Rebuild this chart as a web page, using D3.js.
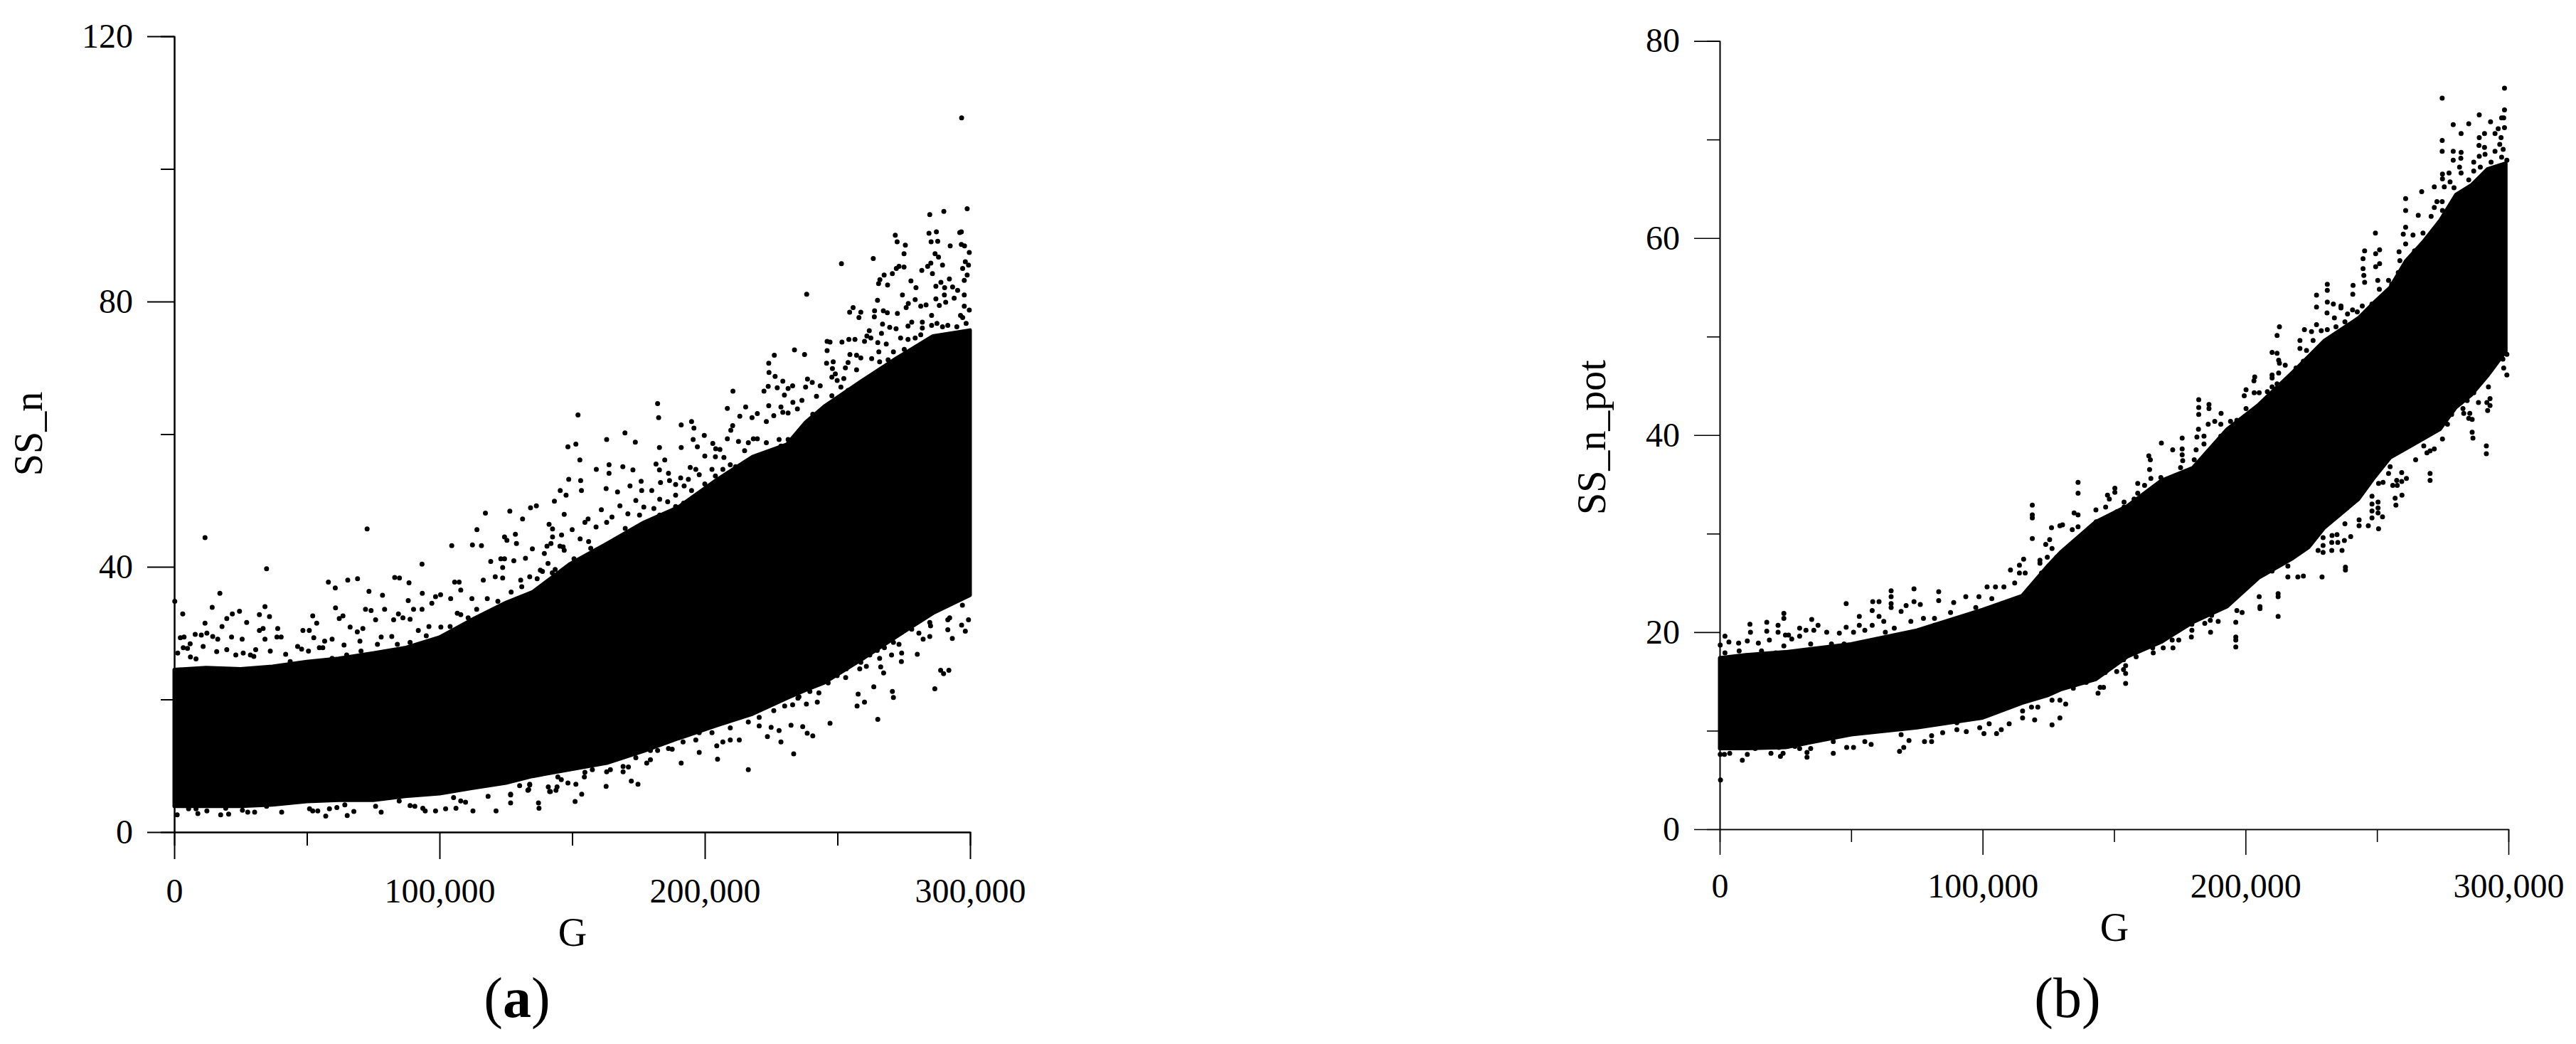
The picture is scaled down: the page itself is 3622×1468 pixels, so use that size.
<!DOCTYPE html>
<html>
<head>
<meta charset="utf-8">
<title>SS_n and SS_n_pot against G</title>
<script src="https://cdn.jsdelivr.net/npm/d3@7"></script>
<style>
  html, body { margin: 0; padding: 0; background: #fff; }
  svg { display: block; }
  text { font-family: "Liberation Serif", serif; fill: #000; }
</style>
</head>
<body>
<div id="chart"></div>
<script>
// G is kept in thousands, every pair is [G, value].

const xMajorTicks = [0, 100, 200, 300];
const xMinorTicks = [50, 150, 250];
const xTickLabels = ["0", "100,000", "200,000", "300,000"];
const aMajorTicks = [0, 40, 80, 120];
const aMinorTicks = [20, 60, 100];
const bMajorTicks = [0, 20, 40, 60, 80];
const bMinorTicks = [10, 30, 50, 70];

// The saturated middle of each cloud cannot be read dot by dot,
// so it is kept as its lower and upper edge at these G values.
const aCoreG = [0, 12, 25, 37, 50, 62, 75, 87, 100, 112, 125, 135, 149, 163, 177, 190, 204, 218, 231, 238, 245, 259, 272, 286, 300];
const aCoreLow = [3.9, 3.9, 3.9, 4.1, 4.6, 4.8, 4.8, 5.4, 5.8, 6.6, 7.4, 8.4, 9.4, 10.4, 12.2, 14.1, 16, 17.8, 20.2, 21.4, 22.5, 26, 29.4, 33, 35.7];
const aCoreHigh = [24.5, 24.8, 24.6, 25, 25.7, 26.2, 27, 27.8, 29.4, 32, 34.6, 36.2, 40.4, 43.5, 46.7, 49, 53, 56.6, 58.5, 61.8, 64.2, 68, 71.4, 74.8, 75.7];

const bCoreG = [0, 10, 25, 50, 75, 100, 115, 125, 130, 143, 155, 168, 180, 193, 205, 218, 224, 230, 243, 249, 255, 261, 267.5, 274, 280, 286, 292, 299];
const bCoreLow = [8.2, 8.2, 8.3, 9.6, 10.3, 11.3, 12.8, 13.6, 14.2, 15.2, 17.5, 19, 21, 22.6, 25.5, 27.5, 28.6, 30.6, 33.5, 35.7, 37.7, 38.6, 39.6, 40.6, 42.8, 44.1, 46, 48.5];
const bCoreHigh = [17.4, 17.7, 18, 18.8, 20.2, 22.3, 23.7, 26.8, 28.2, 31.2, 32.8, 35.4, 36.7, 40.6, 43.1, 46.4, 48, 49.6, 51.9, 53.5, 55, 57.7, 59.6, 61.8, 64.4, 65.4, 67, 67.6];

// single dots around the core of panel (a)
const aPoints = [
  [296.8,107.7],[298.9,94],[290.1,93.6],[284.8,93.1],[271.8,90],[284.5,90.3],[287.3,90.5],[296.7,90.5],[296.1,90.4],
  [272.5,89],[275.6,88.5],[285.3,89],[287.8,89.1],[292.5,88.4],[296.7,88.6],[297.9,88.4],[299.7,87.4],[275.1,87.2],
  [286.8,87.2],[288.1,86.7],[251.5,85.7],[263.5,86.5],[289.6,85.5],[285.2,85.8],[284,85.3],[281.8,84.7],[273.2,85.3],
  [275.1,85.2],[272.2,85],[298.2,86],[299.4,85.5],[297.2,85],[285.8,84.2],[267.6,84],[270.7,84.2],[266,83.3],[265.5,82.7],
  [268.9,82.5],[277.7,83.1],[279.6,82.1],[298.9,84],[297.8,83.2],[292.2,83.4],[289,82.9],[287.1,82.3],[290.4,82.1],
  [293.4,82.2],[295.3,81.7],[297.8,81],[238.4,81.1],[274.5,81],[265.1,80.2],[287.1,80.4],[290.3,81],[294,80.5],[290.8,79.9],
  [279.3,80.3],[281.4,79.3],[283.4,79.5],[276.7,79.7],[275.9,79.1],[255.9,79.1],[254.6,78.4],[258.8,78.4],[258.1,77.6],
  [264,78.6],[263.9,77.7],[267.3,78.6],[268.8,78.3],[272.6,78.2],[285.5,77.9],[288.4,79.4],[297.8,79.3],[299.7,78.7],
  [296.4,77.9],[267,76.6],[269.7,76.1],[272.1,75.9],[276.6,76.3],[278,76.9],[282,76.9],[282,76],[262,75.6],[266.6,75.2],
  [261.1,74.8],[262.6,74.5],[254.3,74.3],[256.6,74.3],[251.7,73.9],[246.1,74],[247.2,73.9],[260.2,74],[246.1,72.6],
  [233.8,72.7],[237.6,72],[226.2,71.9],[224.1,70.7],[224.2,69.3],[226.5,68.7],[245.9,70.7],[248.4,70.9],[248.1,69.9],
  [254,70.8],[253,70],[257.2,69.7],[249.2,69.1],[247.9,68.6],[249.9,68.1],[252.4,68.4],[254.7,72],[257.2,71.9],[258.8,71.5],
  [262.9,71.4],[265.6,72.4],[265.9,70.9],[268.4,73.6],[265.2,73.8],[229.4,68],[230,65.9],[238.7,68.3],[240.5,67.8],
  [238,67.1],[243.5,67.3],[233.1,67.3],[231.4,66.9],[223.9,67.2],[227.3,67],[222.3,66.5],[210.6,66.5],[182.2,64.6],
  [182.6,62.5],[152.2,62.9],[208.5,63.9],[215.4,64.1],[224.1,64.3],[228.7,64.1],[233.2,64.8],[236.6,65.1],[242.1,65.7],
  [247.9,65.8],[213.2,62.7],[219.8,63.1],[217.8,62.5],[223.2,61.9],[229.4,63.3],[231.4,63.2],[226,62.8],[234.9,63.8],
  [240.7,63],[191.1,61.4],[195,61.9],[195.9,60.9],[210.5,61.3],[209.8,60.6],[169.9,60.2],[199.8,59.8],[163,59.2],[173.8,58.8],
  [151.4,58.5],[148.4,58.1],[195.6,59.2],[182.9,58],[191.1,58],[197.2,58.1],[203,58.6],[208.5,59.3],[204.1,57.8],[205.7,57.7],
  [212.7,58.9],[216.4,58.7],[218.3,59.3],[219.8,59.3],[223.2,58.7],[152.9,56.1],[184.9,56.1],[181.6,55.5],[159.1,54.7],
  [163.9,55.4],[169.1,55.1],[172.9,54.6],[163.9,54.1],[182.9,54.6],[186.3,54.1],[148.7,53.2],[153.2,53],[176,52.9],[145.5,51.5],
  [147.7,50.8],[153.5,51.5],[162.8,51.8],[167.1,51.3],[171.8,52.2],[176.2,51.5],[183.3,52.7],[186.7,53],[189,52.4],[192.2,52.2],
  [190.9,53.4],[193.8,53.2],[194.5,55],[196.6,54.7],[202.7,54.7],[200,56.7],[204,56.6],[207.2,56.5],[197.9,53.9],[204,53.7],
  [209.6,55.4],[213,55.1],[200,52.5],[211,53.7],
  [287.5,76.7],[289.6,76.2],[291.6,76.4],[285.5,76.4],[297.2,77.6],[298.5,76.7],[295,76.2],[290.3,74.3],[293,74.5],[296.4,74.3],
  [299.2,75.2],[276.6,74.3],[279.3,74.5],[281.4,75],[273.8,74.5],[275.2,72.8],[279.3,72.6],[282.7,73.1],[285.5,72.8],[288.9,72.8],
  [271.1,72.4],[269.1,71.2],[276.6,71.4],[280.7,70.9],[272.5,70],[275.9,70],[268.4,69.7],[264.3,68.3],[275.2,68.5],[284.1,68.8],
  [260.2,67.3],[267,67.6],[256.7,66.9],[262.9,67.1],[271.1,66.1],[274.5,67.1],[251.3,67.1],[254,66.6],[258.8,65.7],[251.3,65.2],
  [256.7,64.5],[264.3,64.9],[267,64.9],[248.5,64.2],[253.3,63.3],[260.9,63.3],[246.5,63.3],[250.6,61.8],[256.7,60.9],[243.1,60.4],
  [235.5,60.4],[228,59.2],[231.4,59.2],[234.9,59],[239.6,59.2],[244.4,59.2],[215,57.5],[223.2,56.8],[228.7,57.5],[234.2,57],
  [211.6,55.1],[217.8,55.1],[223.2,54.2],[230.1,55.1],
  // between the core and the loose dots
  [142,43.5],[146,44.8],[150,45.6],[153,44.2],[156,47.2],[159,46],[161,48.6],[165,47.5],[168,49.2],[171,48],[174,50],[177,49],[180,51.5],[183,50.2],[186,49.8],
  [189,50.8],[192,49.6],[195,51.5],[198,50.5],[201,51.8],[157,42.8],[170,45.8],[183,47.8],[196,49.5],[138,39.5],[131,37],[127,36.2],[134,38.5],[118,35.2],[122,34.8],
  [108,32.8],[114,33.6],[104,31],[96,31],[92,30.4],[82,29.5],[78,29.4],[70,28.8],[64,28.2],[56,27.8],[48,27.6],[42,26.8],[30,26.5],[26,27],[16,27.2],[6,28.4],
  [163,46.7],[175.4,47.8],[180.8,48.8],[189,49.1],[192.5,48.8],[156.2,43.8],[150.7,41.2],[142.5,39.1],[154.8,46.7],[146.6,43],
  [206.8,54.7],[221.9,57],[228.7,58.2],[235.5,59.9],[241,62.8],
  // lower edge of the core, read along its fringe
  [130.2,7],[141,6.8],[144.6,8.3],[154.8,9],[157.6,9.4],[164.4,9.4],[169.2,9.9],[174,11.2],[179.5,12.3],[186.3,12.6],[191.8,13.6],[197.9,15],[202.7,15],[209.6,15.7],
  [216.4,16.6],[220.5,17.3],[226,18.3],[230.1,19],[235.5,20.4],[239.6,21.2],[243,21],[249.9,23.6],[253.3,24.6],[258.8,25.6],[265,27.4],[271.1,28.6],[278,30.6],
  [284.8,31.6],[291.6,32],[297.1,34.2],
  // below the core, right half
  [137.3,4.4],[137.5,3.6],[126.8,4.4],[151.1,4.6],[153.6,5.7],[162.8,6.9],[172.3,7.7],[174.8,7.2],[154.6,8.3],[148.4,7.4],[151.4,7.2],
  [145.9,7.9],[134,7.2],[133.6,6.4],[126.8,5.7],[141.8,6.1],[143.9,6.3],[191.1,10.4],[204.8,11],[216.4,9.4],[233.5,11.8],[197.9,12],
  [204.5,13],[228.7,13.6],[223.6,14.4],[240.7,14.5],[238.6,14.9],[236.9,15.9],[247.2,16.4],[265.2,17],[232.5,16.1],[228,15.3],[225,15.8],
  [220.5,16],[213,13.9],[209.6,13.9],[206.8,13.6],[196.6,13.9],[187.7,12.5],[182.2,12.3],[179.5,10.9],[178.1,10.4],[171.2,9.8],[169.2,9.1],
  [163,9.1],[257.4,19],[260.2,19.6],[257.8,20.8],[263.7,21.9],[270.7,21.2],[271.1,20.3],[286.7,21.6],[288.9,24.4],[290,23.9],[292,24.4],
  [266.3,24.9],[267.4,24],[274.1,25.7],[280.1,26.8],[260.9,25],[258.4,24.6],[253.1,23.3],[246.5,22.5],[242.4,19.6],[238.3,19.3],[235.1,20.2],
  [233.1,19.2],[293.3,29.2],[284.8,29.5],[282.3,29.1],[280.7,30],[298.2,30.3],[296.8,31.2],[291.6,30.5],[292.3,32.3],[299.4,32],[285.1,31.1],
  [273.2,28.3],[274.2,27],[270.4,26.7],[265.9,26.2],[267.7,27.8],[262.2,26.7],
  // above the core, left half
  [11.6,44.4],[34.8,39.7],[72.7,45.7],[93.4,40.4],[0.2,34.8],[17.2,36],[3.2,32.9],[14.3,33.9],[73.4,36.3],[58.1,37.7],[60.7,36.8],[65.4,38],
  [69.1,38.2],[78.5,35.7],[83.1,38.4],[84.9,38.3],[88.5,37.6],[93.5,36],[98.5,35.5],[100.4,35.8],[104.6,43.2],[112.4,43.3],[115.8,43.2],[114.1,45.6],
  [117.3,48.1],[126.5,48.4],[131.3,47.2],[134.3,48.9],[136.5,49.2],[143.3,49.9],[124.5,44.5],[125.4,44],[128.6,44.9],[129,43.5],[128,40.9],[132.4,41.3],
  [135,42.7],[119.3,40.8],[123.1,41.2],[124.5,41.2],[123.8,39.9],[141.3,46.4],[142.6,45.7],[142.6,44.5],[140.5,43.1],[139.5,42],[140.9,40.5],[147,47.9],
  [145.4,43.1],[147,42.5],[104.2,35.2],[105.7,37.7],[107.4,37.7],[108,36.5],[112.2,35.2],[116.5,38],[121,38.5],[123.8,38.3],[130.6,38],[136.8,38.2],
  [138.8,39.3],[143.6,39.6],[145.7,38.6],[52.2,32.6],[48.5,30.4],[50.9,30.4],[53.7,31.5],[60.8,33.8],[63.6,32.6],[62.2,32.2],[72.1,33.6],[74.2,33.4],
  [79.3,33.6],[84.5,32.9],[90.2,33.6],[93.4,33.6],[88.2,34.9],[97.1,34.5],[24.6,33.3],[19.8,32.2],[21.9,32.9],[34.2,34],[32.1,32.8],[35.9,32.5],[27.3,31.6],
  [11.6,31.5],[18,31],[33.5,30.7],[39,30.7],[32.1,30.4],[12.3,30],[7.9,29.8],[10.2,29.7],[14.5,29.5],[16.4,29.1],[2.3,29.3],[3.7,29.4],[21.6,29.4],[25.6,29.1],
  [34.2,29.1],[38.7,29.4],[40.3,29.4],[52.6,29.3],[56.7,28.8],[59.5,29.1],[66.3,30.9],[69,30.2],[71.1,30.7],[75.9,32],[82.7,32],[86.2,32.3],[88.9,32.1],
  [1.3,27],[3.4,27.8],[5,27.7],[6.1,26.4],[8.2,26.1],[10.9,28],[19.8,27.5],[23.2,26.7],[28.7,26.7],[30.7,27.5],[36.2,27.3],[43.7,25.7],[46.5,28],[50.6,27.3],
  [54.7,27.8],[59.5,26.2],[65,26.7],[70.4,27.3],[76.6,28.3],[84.1,28.3],[88.9,28.6],[95,29.6],[100.5,30.9],[106.7,33],[110.8,32.3],[116.2,32.3],[123.1,33],
  [128.6,33.6],[134,34.6],[140.9,35.7],[146.3,37.8],[145,34.6],
  // below the core, left half
  [1.1,2.6],[8.9,2.8],[5.4,3.5],[8.2,3.5],[17.5,2.6],[20.5,2.7],[19.4,3.6],[12.3,3.2],[27.7,3],[30.3,3],[25.7,3.3],[34.8,3.9],[40.5,3],[52.2,3.2],[54.1,3.2],
  [51,3.5],[57.1,2.4],[58.5,3.5],[61.3,3.7],[65.2,2.5],[67.7,3.1],[64.3,4.1],[78,3],[75.9,3.9],[84.8,4.7],[88.9,4],[90.7,3.9],[93.7,3.6],[94.6,3.2],[98.5,3.2],
  [102.3,3.5],[106.2,3.6],[108,4.7],[109.8,4.5],[112.6,3.2],[121.3,3.2],[105.3,5.2],[118.3,5.4],[126.8,5.6],[134,7.1],[133.3,6.3],[141.5,6.1],[144.3,6.8]
];

// single dots around the core of panel (b)
const bPoints = [
  [298.5,75.2],[274.8,74.2],[298.5,73],[288.9,72.5],[297.4,72.2],[298.2,72.2],[293.2,71.8],[284.9,71.6],[279,71.5],[298.5,71.2],[296.1,71.1],[282,70.6],[290.9,70.6],
  [294.9,70.6],[288.9,70.2],[297.2,70.2],[274.8,69.9],[288.8,69.4],[290.9,69.2],[296.7,69.5],[274.8,68.8],[279,68.8],[282,68.7],[294.9,68.8],[298,69],[288.9,68.3],
  [291.1,68.5],[279,67.9],[281.9,68.1],[286.8,67.7],[293.4,67.7],[299.4,67.9],[297.4,68.2],[281.4,67.2],[277.4,66.6],[274.9,66.5],[282,66.6],[286.8,66.8],[289.3,67.2],
  [290.5,66.4],[298,66.7],[274.9,66],[271.8,65.2],[267,64.7],[275.6,65.2],[277.8,65.7],[279.3,65.1],[284.9,65.9],[260.9,64],[260.9,62.8],[272.8,63.7],[274.8,63.7],
  [271.8,63.1],[274.9,62.8],[265.7,62.3],[270.6,62.2],[249.4,60.5],[260.9,61.1],[260,60.4],[263.7,60.3],[267.5,60.5],[245.3,58.7],[251,58.8],[249.5,58.4],[244.7,57.9],
  [251,57.4],[249.5,57.1],[244.7,56.9],[245,56.2],[245.3,55.5],[260.9,59.4],[258.4,58.6],[264.3,58.7],[267.4,58.6],[258.7,57.7],[262.5,57.7],[266.8,58],[258.1,56.5],
  [231.1,55.3],[231.1,54.7],[240.9,55.2],[240.8,54.3],[227,54.2],[227,53],[231.1,53.5],[233.4,53.3],[231,52.4],[236.3,53.1],[236.3,52.9],[244.4,53.1],[250.3,55.7],
  [254.4,55.7],[250.9,54.8],[255.6,55.3],[257.5,54.8],[253.8,53.9],[248.1,53.3],[240.7,52.7],[238.8,52.3],[242.5,52.5],[233.8,51.9],[237.8,51.5],[212.9,51],[212,50.1],
  [227,51.2],[222.4,50.7],[225.1,50.5],[228.8,50.6],[231.1,50.7],[234.4,51],[238.2,50.9],[241,50.6],[220.7,49.6],[225.7,49.6],[230.7,49.4],[235.7,49.4],[239.4,49.6],
  [210.1,48.4],[212,48.3],[220.7,48.8],[223.2,48.6],[212.6,47.6],[212.9,47.3],[215.1,47.1],[222,47.5],[225.7,47.2],[232,47.8],[235,47.5],[219.2,46.8],[212.6,46.3],
  [210.1,46.1],[210.1,45.8],[203.5,45.9],[203.2,45.5],[216,45.6],[220.1,45.9],[225.1,46.5],[219.5,45.1],[222,44.9],[200.2,44.6],[212,45.2],[210.1,44.9],[215.1,44.4],
  [199.5,44],[203.3,44.3],[205.2,44.3],[208.3,44.4],[182.2,43.6],[182.2,42.8],[186.1,43.1],[186.1,42.7],[182.2,42.1],[190.7,42.2],[200.2,42.7],[203.3,42.5],[207.7,43.1],
  [212,43.1],[217,43.5],[194.3,41.4],[196.7,41.5],[188.3,41.4],[190.6,41.1],[185.8,41.1],[182.1,40.6],[202.3,41.3],[200.2,41.7],[205.2,41.5],[196.4,40.9],[190.6,39.9],
  [181.5,39.8],[184.2,39.9],[198.9,40.6],[175.9,39.7],[168,39.2],[195.2,39.6],[184.2,39.1],[172.3,38.5],[175.9,38.6],[181.2,38.5],[190.6,38.5],[175.9,38],[163.2,37.9],
  [163.8,37.5],[176.1,37.4],[180.5,37.5],[184.8,38],[163.5,36.5],[175.3,36.7],[167.8,35.7],[164,35.6],[172.8,35.4],[177.1,35.9],[159,35.1],[136.3,35.2],[136.3,34.1],
  [161.6,34.9],[166.5,34.7],[150.3,34.6],[150.3,34.2],[147.5,33.9],[148.2,33.5],[159,34.1],[163.4,34.2],[157.6,33.5],[153.8,33.2],[143.1,32.4],[134.8,32.1],[136.3,31.9],
  [146.8,32.7],[151,32.2],[153.8,32.7],[143.2,31.2],[130.4,30.9],[136.3,30.7],[134.1,30.4],[140.4,30.5],[145.4,30.7],[142.9,30.3],
  // below the core, right half
  [299.4,46.1],[298.2,46.8],[299.4,48.2],[297.9,47.7],[292.4,44.9],[293,43.7],[291.8,43.3],[293,43],[292.1,42.5],[288.6,43.3],[286.8,44.3],[284.3,43.5],[281.8,43.3],
  [282.7,42.7],[283,42.2],[285.3,42.2],[286.2,41.6],[284.9,41.7],[286.2,40.3],[286.5,39.7],[291.6,38.9],[291.6,38.1],[278.4,42.1],[276.8,41.1],[274.9,39.6],[271.8,38.6],
  [270.2,38.4],[269,38.2],[267.8,38.9],[264.7,37.5],[265.3,39.4],[270.2,36.1],[270.2,35.4],[261.2,35.6],[259.4,36.2],[259.4,35.3],[257.5,35.4],[257.7,34.9],[256,34.9],
  [259.5,33.9],[256.9,33.6],[257.2,32.9],[254.4,36.1],[252.3,35.2],[250.6,35.1],[255,36.8],[250.4,33.2],[250.4,32.6],[250.4,32.1],[248.1,33.8],[248.1,33],[248.1,32.3],
  [252.1,31.7],[248.1,31.6],[250.6,30.5],[246.7,30.8],[243.2,30.8],[243.2,31.4],[240,29.7],[237.8,31],[234.8,29.9],[232.9,29.8],[237.6,29.3],[235.1,29.1],[232.8,29.1],
  [232.8,28.3],[236.7,28.3],[229.5,29.6],[229.5,28.8],[229.5,28.1],[227.6,28.3],[225.1,30.6],[224.5,30.1],[227,30.1],
  [238,26.6],[238,26.3],[229.1,25.6],[222,25.7],[219.9,25.6],[216.1,25.6],[216.1,26.7],[212.4,21.6],[212.4,23.9],[212.4,23.6],[210.1,26.2],[205.5,22.6],[205.5,22.4],
  [205.2,23.6],[196.3,21],[196.3,19.5],[196.3,19.2],[196.3,18.5],[196.7,22.2],[198.7,22],[189.6,21.1],[186.6,21.2],[184.5,20.9],[186.7,20],[187.1,21.7],[179.4,19.5],
  [179.6,20.2],[179.6,20.8],[174.6,19.2],[172.4,18.4],[172.1,19.2],[168.7,19.3],[168.7,18.4],[164.9,17.9],[164.7,18.4],[158.4,17.5],[153.6,17.2],[154.4,16.6],[153.6,16.2],
  [151,16],[154.4,15.8],[154.4,14.8],[146,14.4],[144.7,14.4],[143.9,13.8],[139.4,14.9],[134.5,14.3],[131.6,12.7],[146.6,15.9],[141.6,15.2],
  // above the core, left half
  [118.9,32.9],[118.9,31.9],[118.9,31.6],[118.9,29.5],[126.2,30.6],[125.5,29.4],[124,28.9],[129.4,30.8],[126.4,28.5],[121.8,27.3],[121.8,27],[115.6,27.4],[114,26.8],
  [110.6,26.3],[114,26],[116.2,26],[112.2,25],[122.4,26],[124.6,27.6],[128.2,27.6],[73.9,24.4],[65.2,24.2],[65.2,23.6],[65.2,22.9],[65.2,22.5],[58.2,23.1],[58,22.2],
  [60.6,23.1],[48.1,22.9],[73.9,23.1],[70.9,22.7],[76.3,22.8],[69,22.1],[83.3,24.1],[83.3,23.2],[89,23],[93.6,23.6],[98.6,23.6],[101.7,24.6],[104.9,24.6],[108.1,24.6],
  [103.5,23.4],[97.4,22.5],[24.4,21.9],[24.4,21.4],[35,21.3],[53.1,21.6],[60.6,21.6],[62.4,21.1],[81.7,21.4],[77.5,21.4],[72.7,21.1],[87.8,22],[17.9,21],[11.5,20.8],
  [22.2,20.7],[37.4,20.7],[35.8,20.2],[48.1,20.5],[53.1,20.7],[58,20.7],[66.4,20.4],[30.4,20.4],[32.8,20.2],[11.7,20],[17.9,20.1],[22.2,20],[30.4,19.6],[25,19.7],[26.2,19.7],
  [2,19.6],[40.7,20],[45.5,19.9],[50.9,20],[55.2,20.2],[63,20],[10.5,19.1],[14.7,18.9],[18.9,19.2],[0.2,18.7],[3.5,19],[7.2,18.9],[24.4,18.6],[27.4,19.3],[34.6,18.8],
  [42.5,18.8],[47.3,18.8],[54,18.9],[61.8,18.8],[69,19.5],[76.3,20],[81.7,20.7],[2,17.9],[7.4,18.1],[15.9,18.1],[21.3,17.9],[25.6,17.7],[31.6,17.4],[37.6,17.7],[43.7,17.9],
  // below the core, left half
  [0.3,5],[8.6,7],[10.5,7.6],[0.2,7.6],[1.8,7.6],[3.8,7.7],[7.4,8.7],[13.5,8.2],[19.5,7.7],[23.1,7.4],[24.1,7.7],[22.5,8.3],[25.6,8.4],[28.6,8.4],[30.4,8.2],[33.2,7.3],
  [33.2,7.8],[34.6,8.2],[43.2,7.7],[43.2,8.9],[48.3,8.3],[50.9,8.3],[55.2,8.9],[57.6,8.6],[68.4,7.9],[70,8.3],[72,9],[69,9.6],[77.9,8.9],[80.6,8.9],[80.6,9.5],[84.8,9.8],
  [90.2,10.1],[93.8,9.9],[90.2,10.8],[100.5,9.7],[98.9,10.3],[102.5,10.7],[105.3,9.7],[107.1,10.1],[110.1,10.7],[115.2,12],[115.2,11.3],[119.8,11.1],[126.4,10.6],[129.4,11.3],
  [121,12.4],[118.6,12.4],[126.4,13.1],[129.4,13.1]
];

const svg = d3
  .select("#chart")
  .append("svg")
  .attr("width", 3622)
  .attr("height", 1468);

function drawPanel(panel) {
  const x = d3.scaleLinear().domain([0, 300]).range([panel.left, panel.right]);
  const y = d3.scaleLinear().domain([0, panel.yMax]).range([panel.bottom, panel.top]);

  const g = svg.append("g");

  // core of the cloud
  const coreRows = panel.coreG.map((d, i) => ({ g: d, low: panel.coreLow[i], high: panel.coreHigh[i] }));
  const coreArea = d3
    .area()
    .x((d) => x(d.g))
    .y0((d) => y(d.low))
    .y1((d) => y(d.high));
  g.append("path")
    .attr("d", coreArea(coreRows))
    .attr("fill", "#000")
    .attr("stroke", "#000")
    .attr("stroke-width", 5)
    .attr("stroke-linejoin", "round");

  g.selectAll("circle")
    .data(panel.points)
    .enter()
    .append("circle")
    .attr("cx", (d) => x(d[0]))
    .attr("cy", (d) => y(d[1]))
    .attr("r", 3.5)
    .attr("fill", "#000");

  // minor ticks first, the labelled axis on top
  const xMinor = d3.axisBottom(x).tickValues(xMinorTicks).tickSize(panel.minorTick).tickFormat("");
  const yMinor = d3.axisLeft(y).tickValues(panel.yMinor).tickSize(panel.minorTick).tickFormat("");
  const xMajor = d3
    .axisBottom(x)
    .tickValues(xMajorTicks)
    .tickSize(panel.majorTick)
    .tickSizeOuter(0)
    .tickPadding(panel.xPad)
    .tickFormat((d, i) => xTickLabels[i]);
  const yMajor = d3
    .axisLeft(y)
    .tickValues(panel.yMajor)
    .tickSize(panel.majorTick)
    .tickSizeOuter(0)
    .tickPadding(panel.yPad);

  [
    [xMinor, `translate(0,${panel.bottom})`],
    [yMinor, `translate(${panel.left},0)`],
    [xMajor, `translate(0,${panel.bottom})`],
    [yMajor, `translate(${panel.left},0)`],
  ].forEach(([axis, transform]) => {
    const a = g.append("g").attr("transform", transform).call(axis);
    a.selectAll("path,line").attr("stroke", "#000").attr("stroke-width", panel.lineWidth);
    a.selectAll("text").attr("font-family", "Liberation Serif").attr("font-size", 48).attr("fill", "#000");
  });

  g.append("text")
    .attr("x", panel.xTitleX)
    .attr("y", panel.xTitleY)
    .attr("text-anchor", "middle")
    .attr("font-size", 56)
    .text("G");

  g.append("text")
    .attr("transform", `translate(${panel.yTitleX},${panel.yTitleY}) rotate(-90)`)
    .attr("text-anchor", "middle")
    .attr("font-size", 56)
    .text(panel.yTitle);

  const tag = g
    .append("text")
    .attr("x", panel.tagX)
    .attr("y", 1430)
    .attr("text-anchor", "middle")
    .attr("font-size", 80);
  tag.append("tspan").text("(");
  tag.append("tspan").attr("font-weight", panel.tagWeight).text(panel.tag);
  tag.append("tspan").text(")");
}

drawPanel({
  points: aPoints, coreG: aCoreG, coreLow: aCoreLow, coreHigh: aCoreHigh,
  yMax: 120, yMajor: aMajorTicks, yMinor: aMinorTicks,
  left: 245, right: 1364, top: 51, bottom: 1170,
  majorTick: 38, minorTick: 19, xPad: 27, yPad: 20, lineWidth: 2,
  xTitleX: 805, xTitleY: 1330, yTitle: "SS_n", yTitleX: 59, yTitleY: 610,
  tag: "a", tagWeight: "bold", tagX: 727,
});

drawPanel({
  points: bPoints, coreG: bCoreG, coreLow: bCoreLow, coreHigh: bCoreHigh,
  yMax: 80, yMajor: bMajorTicks, yMinor: bMinorTicks,
  left: 2418, right: 3527, top: 57.6, bottom: 1166,
  majorTick: 36, minorTick: 18, xPad: 26, yPad: 20, lineWidth: 1.6,
  xTitleX: 2973, xTitleY: 1323, yTitle: "SS_n_pot", yTitleX: 2257, yTitleY: 615,
  tag: "b", tagWeight: "normal", tagX: 2907,
});
</script>
</body>
</html>
